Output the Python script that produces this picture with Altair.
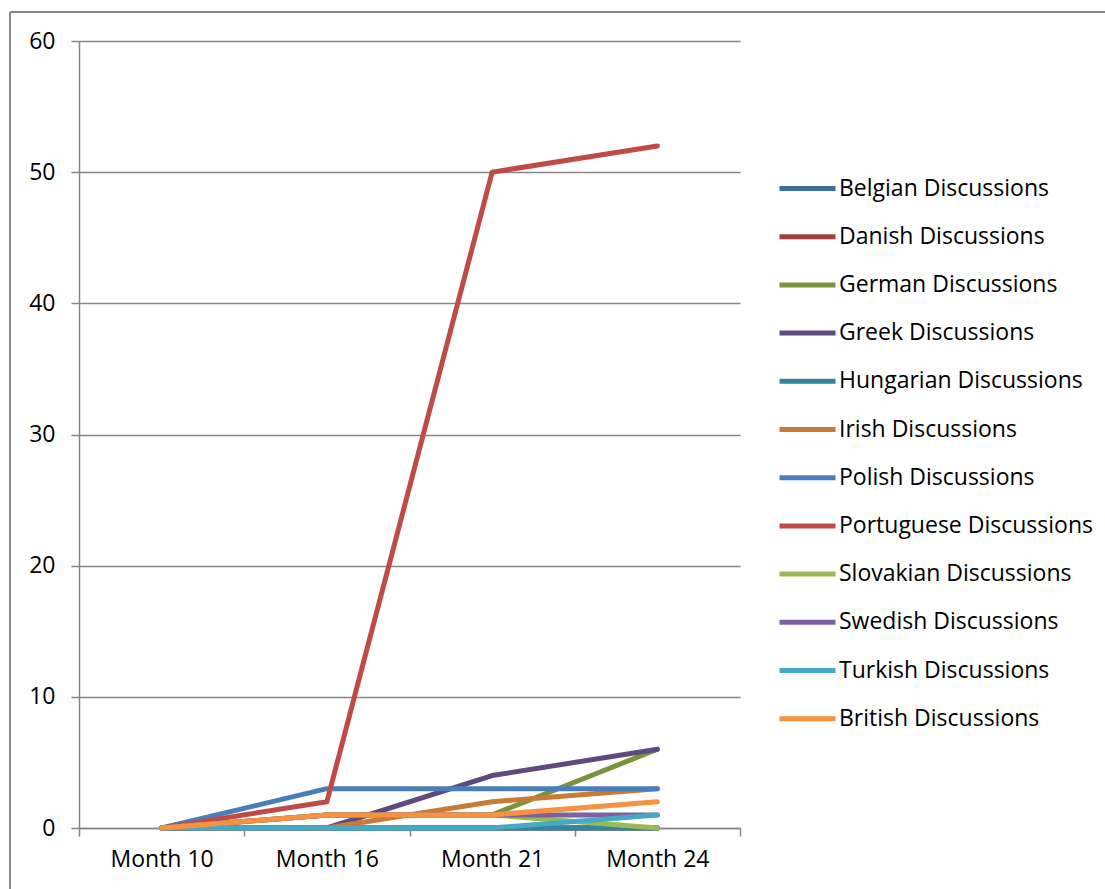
import altair as alt
import pandas as pd

months = ["Month 10", "Month 16", "Month 21", "Month 24"]
series = [
    "Belgian Discussions", "Danish Discussions", "German Discussions",
    "Greek Discussions", "Hungarian Discussions", "Irish Discussions",
    "Polish Discussions", "Portuguese Discussions", "Slovakian Discussions",
    "Swedish Discussions", "Turkish Discussions", "British Discussions",
]
belgian = [0, 0, 0, 0]
danish = [0, 0, 0, 0]
german = [0, 1, 1, 6]
greek = [0, 0, 4, 6]
hungarian = [0, 0, 0, 0]
irish = [0, 0, 2, 3]
polish = [0, 3, 3, 3]
portuguese = [0, 2, 50, 52]
slovakian = [0, 1, 1, 0]
swedish = [0, 1, 1, 1]
turkish = [0, 0, 0, 1]
british = [0, 1, 1, 2]
colors = ["#3D6CA3", "#A5403D", "#77933C", "#5F4A7E", "#31859C", "#C97A34",
          "#4A7EBB", "#BE4B48", "#98B954", "#7D60A0", "#46AAC5", "#F69240"]

values = [belgian, danish, german, greek, hungarian, irish, polish,
          portuguese, slovakian, swedish, turkish, british]
rows = []
for i, (s, vals) in enumerate(zip(series, values)):
    for m, v in zip(months, vals):
        rows.append({"series": s, "month": m, "value": v, "order": i})
df = pd.DataFrame(rows)

FONT = "Open Sans"
GRAY = "#868686"
FS = 23

lines = alt.Chart(df).mark_line(strokeWidth=5, strokeCap="round", strokeJoin="round").encode(
    x=alt.X("month:O", sort=months, title=None,
            scale=alt.Scale(type="band", paddingInner=0, paddingOuter=0),
            axis=alt.Axis(tickBand="extent", labelAngle=0, labelFontSize=FS, labelFont=FONT,
                          labelColor="black", domainColor=GRAY, domainWidth=1.5,
                          tickColor=GRAY, tickWidth=1.5, tickSize=8, labelPadding=12,
                          grid=False)),
    y=alt.Y("value:Q", title=None,
            scale=alt.Scale(domain=[0, 60], nice=False),
            axis=alt.Axis(values=[0, 10, 20, 30, 40, 50, 60], labelFontSize=FS, labelFont=FONT,
                          labelColor="black", domainColor=GRAY, domainWidth=1.5,
                          tickColor=GRAY, tickWidth=1.5, tickSize=8, labelPadding=16,
                          gridColor=GRAY, gridWidth=1.3)),
    color=alt.Color("series:N", sort=series,
                    scale=alt.Scale(domain=series, range=colors),
                    legend=alt.Legend(title=None, orient="none", legendX=698, legendY=117,
                                      symbolType="stroke", symbolSize=3136,
                                      symbolStrokeWidth=5, labelFontSize=FS, labelFont=FONT,
                                      labelColor="black", labelOffset=1, rowPadding=5.2,
                                      labelLimit=400)),
    order=alt.Order("order:Q"),
)

left_border = alt.Chart(df).mark_rule(color=GRAY, strokeWidth=1.5).encode(
    x=alt.value(-69), y=alt.value(-29), y2=alt.value(850))
top_border = alt.Chart(df).mark_rule(color=GRAY, strokeWidth=1.5).encode(
    x=alt.value(-69), x2=alt.value(1030), y=alt.value(-29))

chart = alt.layer(left_border, top_border, lines).properties(
    width=661, height=787,
    padding={"left": 79, "top": 41, "right": 365, "bottom": 61},
    autosize=alt.AutoSizeParams(type="none"),
).configure_view(stroke=None)

chart.save("out.html", embed_options={"renderer": "svg", "actions": False})
